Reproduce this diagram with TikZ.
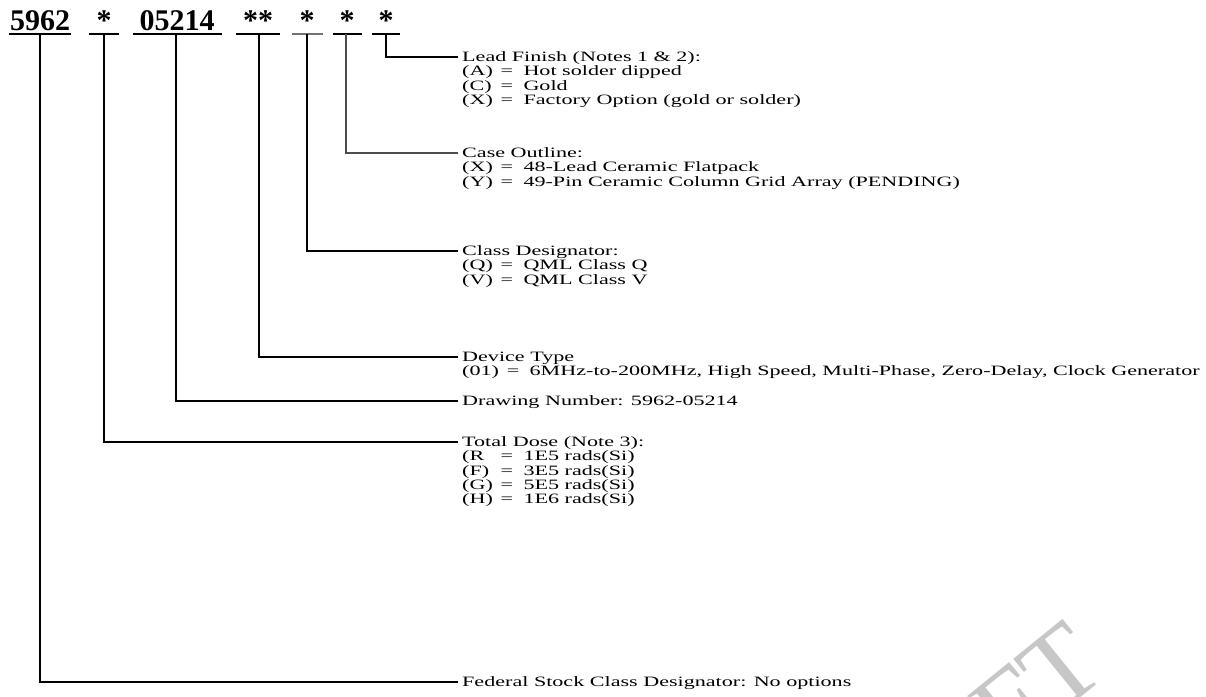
\documentclass[tikz,border=0pt]{standalone}
\usepackage{fontspec}
\setmainfont{Liberation Serif}
\usetikzlibrary{positioning}
\tikzset{
  field/.style={font=\fontsize{30}{30}\selectfont\bfseries, inner sep=0pt, anchor=base},
  bar/.style={line width=1.8pt},
  lead/.style={line width=1.6pt},
  group/.style={font=\fontsize{17}{17}\selectfont, inner sep=0pt, anchor=base west},
  stamp/.style={font=\fontsize{110}{110}\selectfont, text=black!22, inner sep=0pt, anchor=base east, rotate=39}
}
\newcommand{\wide}[1]{\scalebox{1.3}[0.84]{#1}}
\newcommand{\optblock}[2]{\wide{%
  \begin{tabular}[t]{@{}l@{\hspace{6pt}}c@{\hspace{8pt}}l@{}}
  \multicolumn{3}{@{}l@{}}{#1}\\#2
  \end{tabular}}}
\begin{document}
\begin{tikzpicture}[x=1pt,y=-1pt]
\path[use as bounding box] (0,0) rectangle (1206,696);
\fill[white] (0,0) rectangle (1206,696);

% watermark fragment
\node[stamp] (wm) at (1110,674) {FT};

% part number fields
\node[field] (fsc)   at (40,30)  {5962};
\node[field] (dose)  at (104,30) {*};
\node[field] (dwg)   at (177,30) {05214};
\node[field] (dev)   at (258,30) {**};
\node[field] (cls)   at (307,30) {*};
\node[field] (case)  at (347,30) {*};
\node[field] (fin)   at (386,30) {*};

\draw[bar] (9,34) -- (71,34);
\draw[bar] (89,34) -- (119,34);
\draw[bar] (133,34) -- (222,34);
\draw[bar] (236,34) -- (280,34);
\draw[bar, black!55] (292,34) -- (323,34);
\draw[bar] (333,34) -- (362,34);
\draw[bar] (372,34) -- (400,34);

\coordinate (fscB)  at (40,34);
\coordinate (doseB) at (104,34);
\coordinate (dwgB)  at (176,34);
\coordinate (devB)  at (259,34);
\coordinate (clsB)  at (307,34);
\coordinate (caseB) at (346,34);
\coordinate (finB)  at (386,34);

% descriptions (first line centred on the leader)
\node[group] (finG) at (462,61.5) {\optblock{Lead Finish (Notes 1 \& 2):}
  {(A) & = & Hot solder dipped\\ (C) & = & Gold\\ (X) & = & Factory Option (gold or solder)}};
\node[group] (caseG) at (462,157.5) {\optblock{Case Outline:}
  {(X) & = & 48-Lead Ceramic Flatpack\\ (Y) & = & 49-Pin Ceramic Column Grid Array (PENDING)}};
\node[group] (clsG) at (462,255.5) {\optblock{Class Designator:}
  {(Q) & = & QML Class Q\\ (V) & = & QML Class V}};
\node[group] (devG) at (462,361.5) {\optblock{Device Type}
  {(01) & = & 6MHz-to-200MHz, High Speed, Multi-Phase, Zero-Delay, Clock Generator}};
\node[group] (dwgG) at (462,405.5) {\wide{Drawing Number: 5962-05214}};
\node[group] (doseG) at (462,446.5) {\optblock{Total Dose (Note 3):}
  {(R & = & 1E5 rads(Si)\\ (F) & = & 3E5 rads(Si)\\ (G) & = & 5E5 rads(Si)\\ (H) & = & 1E6 rads(Si)}};
\node[group] (fscG) at (462,686.5) {\wide{Federal Stock Class Designator: No options}};

% leaders
\draw[lead] (finB)  |- ([xshift=-4pt,yshift=4.5pt]finG.base west);
\draw[lead, black!70] (caseB) |- ([xshift=-4pt,yshift=4.5pt]caseG.base west);
\draw[lead] (clsB)  |- ([xshift=-4pt,yshift=4.5pt]clsG.base west);
\draw[lead] (devB)  |- ([xshift=-4pt,yshift=4.5pt]devG.base west);
\draw[lead] (dwgB)  |- ([xshift=-4pt,yshift=4.5pt]dwgG.base west);
\draw[lead] (doseB) |- ([xshift=-4pt,yshift=4.5pt]doseG.base west);
\draw[lead] (fscB)  |- ([xshift=-4pt,yshift=4.5pt]fscG.base west);
\end{tikzpicture}
\end{document}
